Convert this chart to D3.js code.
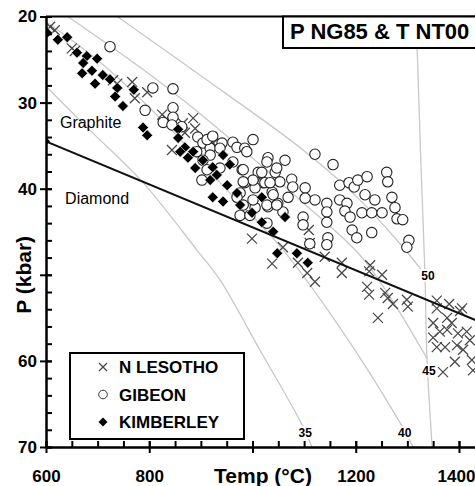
<!DOCTYPE html>
<html>
<head>
<meta charset="utf-8">
<script src="https://cdn.jsdelivr.net/npm/d3@7"></script>
<style>
  body { margin: 0; background: #fff; }
  svg { display: block; font-family: Arial, "Liberation Sans", sans-serif; }
</style>
</head>
<body>
<svg id="svg1" width="475" height="486"></svg>
<script>
// tick values / labels (the 1000 and 50 slots are taken by the axis titles)
var xTicks = [600, 800, 1000, 1200, 1400];
var xTickLabels = ["600", "800", "", "1200", "1400"];
var yTicks = [20, 30, 40, 50, 60, 70];
var yTickLabels = ["20", "30", "40", "", "60", "70"];

// [T (°C), P (kbar)]
var lesotho = [
  [608,21.2],[617,21.6],[650,23.7],[656,24.0],[730,27.4],[738,27.8],
  [767,27.6],[796,28.8],[772,29.5],[825,31.4],[834,31.9],[885,31.8],[865,32.4],
  [889,33.0],[869,33.5],[924,34.7],[844,35.5],
  [999,45.8],[1038,48.7],[1059,46.8],[1088,48.6],[1106,49.8],[1121,50.8],[1109,44.8],
  [1111,46.3],[1140,47.9],[1173,48.6],[1173,49.8],[1228,48.9],[1226,49.6],[1251,50.0],
  [1222,51.4],[1226,52.3],[1257,52.1],[1262,52.7],[1272,53.4],[1299,52.9],[1301,53.7],
  [1357,53.0],[1357,53.9],[1381,53.4],[1406,53.9],[1243,55.0],[1350,55.6],[1377,55.0],
  [1386,55.6],[1402,54.2],[1363,56.6],[1350,57.3],[1357,58.4],[1373,58.4],[1398,56.8],
  [1415,56.6],[1392,60.1],[1425,59.9],[1427,61.1],[1377,56.4],[1396,58.2],[1408,58.7],
  [1421,57.6],[1369,61.3]
];

var gibeon = [
  [724,23.5],[807,28.3],[846,28.4],[792,30.9],[846,30.6],[846,31.7],[827,32.3],[844,32.6],
  [863,32.8],[894,34.0],[904,34.7],[918,35.3],[941,34.7],[962,34.6],[970,35.2],[1001,34.3],
  [985,35.3],[989,35.7],[1030,36.4],[1063,36.7],[1121,36.0],[912,34.3],[923,33.9],[1156,37.2],
  [980,37.8],[1011,38.1],[1044,38.1],[1020,39.3],[1053,39.2],[1076,38.9],[1078,39.8],[1102,39.9],
  [1121,41.3],[1144,41.7],[1102,41.1],[1069,41.0],[1038,40.4],[1005,39.9],[985,39.3],[976,40.5],
  [1049,41.7],[1030,42.1],[1005,42.2],[1059,42.7],[1098,43.3],[1098,44.2],[1144,42.7],[1144,43.9],
  [1146,45.7],[1144,46.5],[1111,46.4],[1169,39.6],[1187,39.3],[1197,39.8],[1169,41.3],[1183,41.7],
  [1179,42.6],[1189,43.3],[1204,39.0],[1222,38.6],[1218,40.7],[1237,41.3],[1212,42.8],[1231,42.8],
  [1251,42.8],[1260,38.1],[1262,39.2],[1270,41.0],[1276,42.2],[1280,43.5],[1291,43.6],[1193,44.8],
  [1202,45.7],[1231,45.1],[1303,46.0],[1299,46.8],[902,39.0],[912,37.8],[937,37.6],[962,36.9],
  [982,37.8],[1001,39.0],[1028,36.9],[1018,38.1],[982,39.2],[970,41.0],[982,41.9],[1001,41.3],
  [1028,41.9],[976,43.1],[995,43.1],[1040,40.7],[1024,39.3],[1047,41.9],[1028,44.0],[937,35.3],
  [918,36.1],[892,35.7],[904,36.7],[1047,37.6],[1034,39.3]
];

var kimberley = [
  [602,21.9],[623,22.7],[641,22.4],[660,24.2],[679,24.6],[699,24.9],[672,25.4],[689,26.3],
  [670,26.6],[710,26.8],[695,27.8],[724,27.3],[738,28.3],[734,29.3],[770,28.5],[749,30.4],
  [788,32.9],[796,33.8],[856,33.1],[856,34.1],[869,35.2],[875,36.4],[860,35.7],[885,35.7],
  [904,36.7],[923,37.5],[943,36.1],[956,37.2],[931,38.4],[918,39.0],[951,39.6],[970,40.5],
  [923,41.0],[943,41.5],[976,41.9],[1018,41.0],[999,42.8],[1018,43.9],[1063,43.3],[1040,45.0],
  [1048,47.5],[1086,47.5],[1107,48.6],[889,37.6]
];

// geotherms (mW/m2) and adiabat
var geo35 = [[600,28.1],[685,33.2],[788,39.3],[892,47.1],[937,50.6],[1014,58.7],[1096,67.4],[1115,70]];
var geo40 = [[600,20.6],[705,25.3],[821,31.8],[937,39.3],[1059,47.1],[1169,56.1],[1286,67.2],[1311,70]];
var geo45 = [[642,20],[807,27.0],[937,33.2],[1092,41.3],[1208,47.7],[1270,52.9],[1338,59.7]];
var geo50 = [[738,20],[898,26.8],[1098,35.5],[1208,41.3],[1324,49.2],[1338,50.5]];
var adiabat = [[1316,20],[1319,23.7],[1326,36.7],[1334,49.8],[1338,59.7],[1348,70]];
var geoLabels = [["35",1102,68.4],["40",1295,68.4],["45",1342,61.1],["50",1340,50.1]];

// graphite-diamond boundary
var gdLine = [[600,34.5],[1450,55.7]];

var legendNames = ["N LESOTHO", "GIBEON", "KIMBERLEY"];

var svg = d3.select("#svg1");

var x = d3.scaleLinear().domain([600, 1450]).range([46, 484.8]);
var y = d3.scaleLinear().domain([20, 70]).range([16.5, 447]);

svg.append("clipPath").attr("id", "plotclip")
  .append("rect")
    .attr("x", 46).attr("y", 16.5)
    .attr("width", 429).attr("height", 430.5);

var plot = svg.append("g").attr("clip-path", "url(#plotclip)");

var line = d3.line()
  .x(function(d) { return x(d[0]); })
  .y(function(d) { return y(d[1]); })
  .curve(d3.curveCatmullRom);

plot.selectAll(".geo")
  .data([geo35, geo40, geo45, geo50, adiabat])
  .enter()
  .append("path")
    .attr("class", "geo")
    .attr("d", line)
    .attr("fill", "none")
    .attr("stroke", "#c8c8c8")
    .attr("stroke-width", 1.3);

plot.selectAll(".geolabel")
  .data(geoLabels)
  .enter()
  .append("text")
    .attr("class", "geolabel")
    .attr("x", function(d) { return x(d[1]); })
    .attr("y", function(d) { return y(d[2]); })
    .attr("dy", "0.35em")
    .attr("text-anchor", "middle")
    .attr("font-size", 12)
    .attr("font-weight", "bold")
    .attr("stroke", "#fff")
    .attr("stroke-width", 4)
    .attr("paint-order", "stroke")
    .text(function(d) { return d[0]; });

var crossPath = "M-5,-5L5,5M-5,5L5,-5";
var diamondPath = "M0,-5.5L5.5,0L0,5.5L-5.5,0Z";

plot.selectAll(".lesotho")
  .data(lesotho)
  .enter()
  .append("path")
    .attr("class", "lesotho")
    .attr("transform", function(d) { return "translate(" + x(d[0]) + "," + y(d[1]) + ")"; })
    .attr("d", crossPath)
    .attr("stroke", "#4a4a4a")
    .attr("stroke-width", 1.3)
    .attr("fill", "none");

plot.selectAll(".gibeon")
  .data(gibeon)
  .enter()
  .append("circle")
    .attr("class", "gibeon")
    .attr("cx", function(d) { return x(d[0]); })
    .attr("cy", function(d) { return y(d[1]); })
    .attr("r", 5.2)
    .attr("fill", "#fff")
    .attr("stroke", "#222")
    .attr("stroke-width", 1.1);

plot.selectAll(".kimberley")
  .data(kimberley)
  .enter()
  .append("path")
    .attr("class", "kimberley")
    .attr("transform", function(d) { return "translate(" + x(d[0]) + "," + y(d[1]) + ")"; })
    .attr("d", diamondPath)
    .attr("fill", "#000")
    .attr("stroke", "#fff")
    .attr("stroke-width", 0.6);

plot.append("path")
  .attr("d", d3.line().x(function(d) { return x(d[0]); }).y(function(d) { return y(d[1]); })(gdLine))
  .attr("fill", "none")
  .attr("stroke", "#111")
  .attr("stroke-width", 2);

plot.append("path")
  .attr("transform", "translate(" + x(gdLine[0][0]) + "," + y(gdLine[0][1]) + ")")
  .attr("d", "M0,-4L4,0L0,4L-4,0Z")
  .attr("fill", "#000");

plot.append("text")
  .attr("x", x(627)).attr("y", y(33))
  .attr("font-size", 16)
  .text("Graphite");

plot.append("text")
  .attr("x", x(637)).attr("y", y(41.8))
  .attr("font-size", 16)
  .text("Diamond");

// axes
function styleAxis(g) {
  g.select(".domain").attr("stroke", "#000").attr("stroke-width", 2);
  g.selectAll(".tick line").attr("stroke", "#000").attr("stroke-width", 2);
  g.selectAll(".tick text")
    .attr("fill", "#000")
    .attr("font-size", 17)
    .attr("font-weight", "bold")
    .attr("font-family", "Arial, 'Liberation Sans', sans-serif");
}

svg.append("g")
  .attr("transform", "translate(0,447)")
  .call(d3.axisBottom(x).tickValues(d3.range(600, 1451, 50)).tickSize(-6).tickSizeOuter(0).tickFormat(""))
  .call(styleAxis);

var xAxis = svg.append("g")
  .attr("transform", "translate(0,447)")
  .call(d3.axisBottom(x).tickValues(xTicks).tickSize(6).tickSizeOuter(0)
    .tickFormat(function(d, i) { return xTickLabels[i]; }))
  .call(styleAxis);
xAxis.selectAll(".tick line").attr("y1", -6);
xAxis.selectAll(".tick text").attr("dy", null).attr("y", 35);
// keep the last label inside the window
xAxis.selectAll(".tick text")
  .filter(function(d) { return d === 1400; })
  .attr("dx", -3);

svg.append("g")
  .attr("transform", "translate(46,0)")
  .call(d3.axisLeft(y).tickValues(d3.range(20, 71, 2)).tickSize(-6).tickSizeOuter(0).tickFormat(""))
  .call(styleAxis);

var yAxis = svg.append("g")
  .attr("transform", "translate(46,0)")
  .call(d3.axisLeft(y).tickValues(yTicks).tickSize(6).tickSizeOuter(0)
    .tickFormat(function(d, i) { return yTickLabels[i]; }))
  .call(styleAxis);
yAxis.selectAll(".tick line").attr("x1", 6);

// top frame
svg.append("line")
  .attr("x1", 46).attr("x2", 475)
  .attr("y1", y(20)).attr("y2", y(20))
  .attr("stroke", "#000")
  .attr("stroke-width", 2);

// axis titles
svg.append("text")
  .attr("x", 263).attr("y", 483)
  .attr("text-anchor", "middle")
  .attr("font-size", 21)
  .attr("font-weight", "bold")
  .text("Temp (°C)");

svg.append("text")
  .attr("transform", "translate(31," + y(50) + ") rotate(-90)")
  .attr("text-anchor", "middle")
  .attr("font-size", 21)
  .attr("font-weight", "bold")
  .text("P (kbar)");

// title box
svg.append("rect")
  .attr("x", 283).attr("y", 16.5)
  .attr("width", 200).attr("height", 31.5)
  .attr("fill", "#fff")
  .attr("stroke", "#000")
  .attr("stroke-width", 2);

svg.append("text")
  .attr("x", 290).attr("y", 39)
  .attr("font-size", 22)
  .attr("font-weight", "bold")
  .text("P NG85 & T NT00");

// legend
var legend = svg.append("g").attr("transform", "translate(70,353)");

legend.append("rect")
  .attr("width", 174).attr("height", 86)
  .attr("fill", "#fff")
  .attr("stroke", "#000")
  .attr("stroke-width", 2);

var rows = legend.selectAll(".row")
  .data(legendNames)
  .enter()
  .append("g")
    .attr("class", "row")
    .attr("transform", function(d, i) { return "translate(0," + (14 + i * 27.5) + ")"; });

rows.append("text")
  .attr("x", 49).attr("y", 6)
  .attr("font-size", 17)
  .attr("font-weight", "bold")
  .text(function(d) { return d; });

rows.filter(function(d, i) { return i === 0; })
  .append("path")
    .attr("transform", "translate(33,0)")
    .attr("d", "M-4,-4L4,4M-4,4L4,-4")
    .attr("stroke", "#4a4a4a")
    .attr("stroke-width", 1.3);

rows.filter(function(d, i) { return i === 1; })
  .append("circle")
    .attr("cx", 33).attr("r", 4.3)
    .attr("fill", "#fff")
    .attr("stroke", "#333")
    .attr("stroke-width", 1);

rows.filter(function(d, i) { return i === 2; })
  .append("path")
    .attr("transform", "translate(33,0)")
    .attr("d", "M0,-4.5L4.5,0L0,4.5L-4.5,0Z")
    .attr("fill", "#000");
</script>
</body>
</html>
